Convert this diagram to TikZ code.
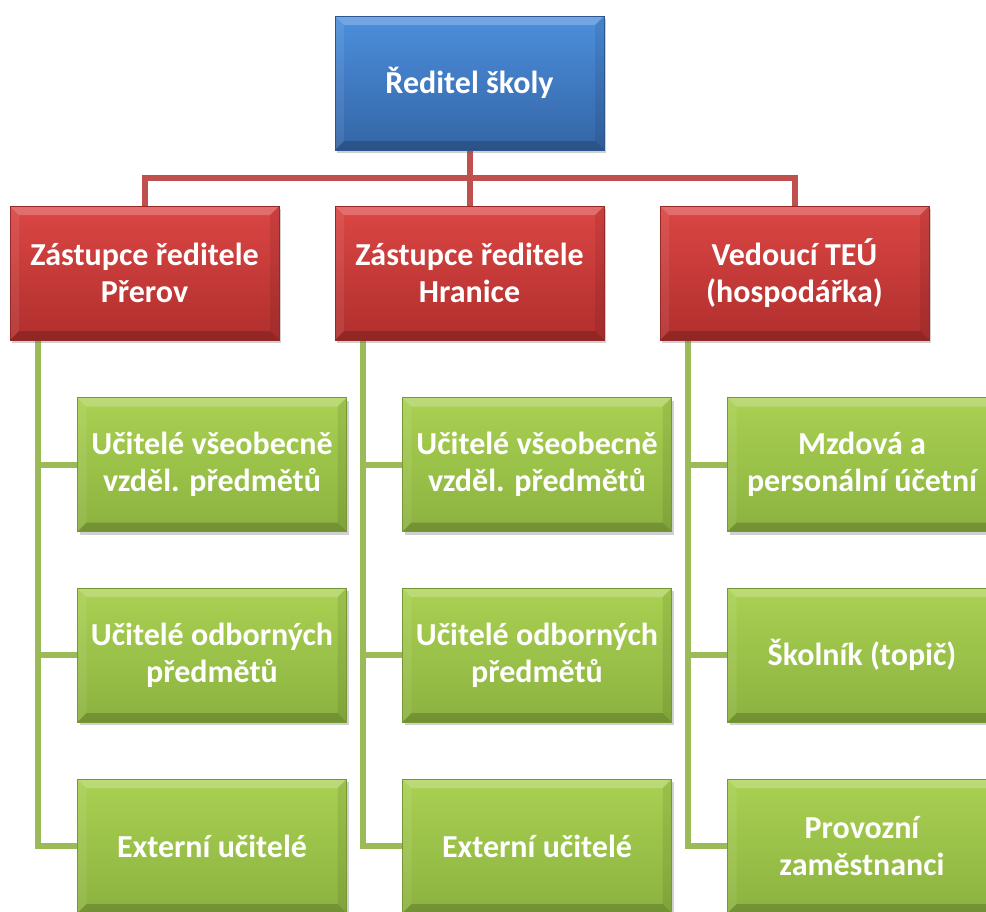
\documentclass[tikz,border=0pt]{standalone}
\usepackage{fontspec}
\setmainfont{Carlito}
\usetikzlibrary{shadows,backgrounds}
\definecolor{bluetop}{HTML}{4C8FDD}
\definecolor{bluebot}{HTML}{3465A6}
\definecolor{redtop}{HTML}{DB4644}
\definecolor{redbot}{HTML}{B02F2D}
\definecolor{greentop}{HTML}{AAD152}
\definecolor{greenbot}{HTML}{8BB23F}
\definecolor{redln}{HTML}{C0504D}
\definecolor{greenln}{HTML}{9BBB59}
\tikzset{
  bevel/.style={path picture={
    \fill[white,opacity=.22] (path picture bounding box.north west) -- (path picture bounding box.north east)
      -- ([xshift=-9pt,yshift=-9pt]path picture bounding box.north east) -- ([xshift=9pt,yshift=-9pt]path picture bounding box.north west) -- cycle;
    \fill[white,opacity=.08] (path picture bounding box.north west) -- (path picture bounding box.south west)
      -- ([xshift=9pt,yshift=9pt]path picture bounding box.south west) -- ([xshift=9pt,yshift=-9pt]path picture bounding box.north west) -- cycle;
    \fill[black,opacity=.18] (path picture bounding box.south west) -- (path picture bounding box.south east)
      -- ([xshift=-9pt,yshift=9pt]path picture bounding box.south east) -- ([xshift=9pt,yshift=9pt]path picture bounding box.south west) -- cycle;
    \fill[black,opacity=.08] (path picture bounding box.north east) -- (path picture bounding box.south east)
      -- ([xshift=-9pt,yshift=9pt]path picture bounding box.south east) -- ([xshift=-9pt,yshift=-9pt]path picture bounding box.north east) -- cycle;
  }},
  box/.style={rectangle, minimum width=269pt, minimum height=134pt, inner sep=0pt,
    text=white, align=center, font=\fontsize{32}{37}\selectfont\bfseries, bevel,
    drop shadow={shadow xshift=2pt, shadow yshift=-3pt, opacity=.3, fill=black!60}},
  bluebox/.style={box, top color=bluetop, bottom color=bluebot, draw=bluebot!85!black, line width=0.6pt},
  redbox/.style={box, top color=redtop, bottom color=redbot, draw=redbot!85!black, line width=0.6pt},
  greenbox/.style={box, top color=greentop, bottom color=greenbot, draw=greenbot!85!black, line width=0.6pt},
  redline/.style={draw=redln, line width=6pt},
  greenline/.style={draw=greenln, line width=6pt},
}
\begin{document}
\begin{tikzpicture}[x=1pt,y=-1pt]
\useasboundingbox (0,0) rectangle (986,911);
\clip (0,0) rectangle (986,911);
\node[bluebox] (top) at (469.5,83) {Ředitel školy};
\node[redbox] (r1) at (144.5,273) {Zástupce ředitele\\Přerov};
\node[redbox] (r2) at (469.5,273) {Zástupce ředitele\\Hranice};
\node[redbox] (r3) at (794.5,273) {Vedoucí TEÚ\\(hospodářka)};
\node[greenbox] (g11) at (212,464.5) {Učitelé všeobecně\\vzděl. předmětů};
\node[greenbox] (g12) at (212,655) {Učitelé odborných\\předmětů};
\node[greenbox] (g13) at (212,846) {Externí učitelé};
\node[greenbox] (g21) at (537,464.5) {Učitelé všeobecně\\vzděl. předmětů};
\node[greenbox] (g22) at (537,655) {Učitelé odborných\\předmětů};
\node[greenbox] (g23) at (537,846) {Externí učitelé};
\node[greenbox] (g31) at (862,464.5) {Mzdová a\\personální účetní};
\node[greenbox] (g32) at (862,655) {Školník (topič)};
\node[greenbox] (g33) at (862,846) {Provozní\\zaměstnanci};
\begin{scope}[on background layer]
\fill[white] (0,0) rectangle (986,911);
\draw[redline] (top.south) -- (r2.north);
\draw[redline] (r1.north) -- ++(0,-28) -| (r3.north);
\draw[greenline] (r1.south west) ++(28,0) |- (g13.west);
\draw[greenline] (g11.west) -- ++(-40,0);
\draw[greenline] (g12.west) -- ++(-40,0);
\draw[greenline] (r2.south west) ++(28,0) |- (g23.west);
\draw[greenline] (g21.west) -- ++(-40,0);
\draw[greenline] (g22.west) -- ++(-40,0);
\draw[greenline] (r3.south west) ++(28,0) |- (g33.west);
\draw[greenline] (g31.west) -- ++(-40,0);
\draw[greenline] (g32.west) -- ++(-40,0);
\end{scope}
\end{tikzpicture}
\end{document}
